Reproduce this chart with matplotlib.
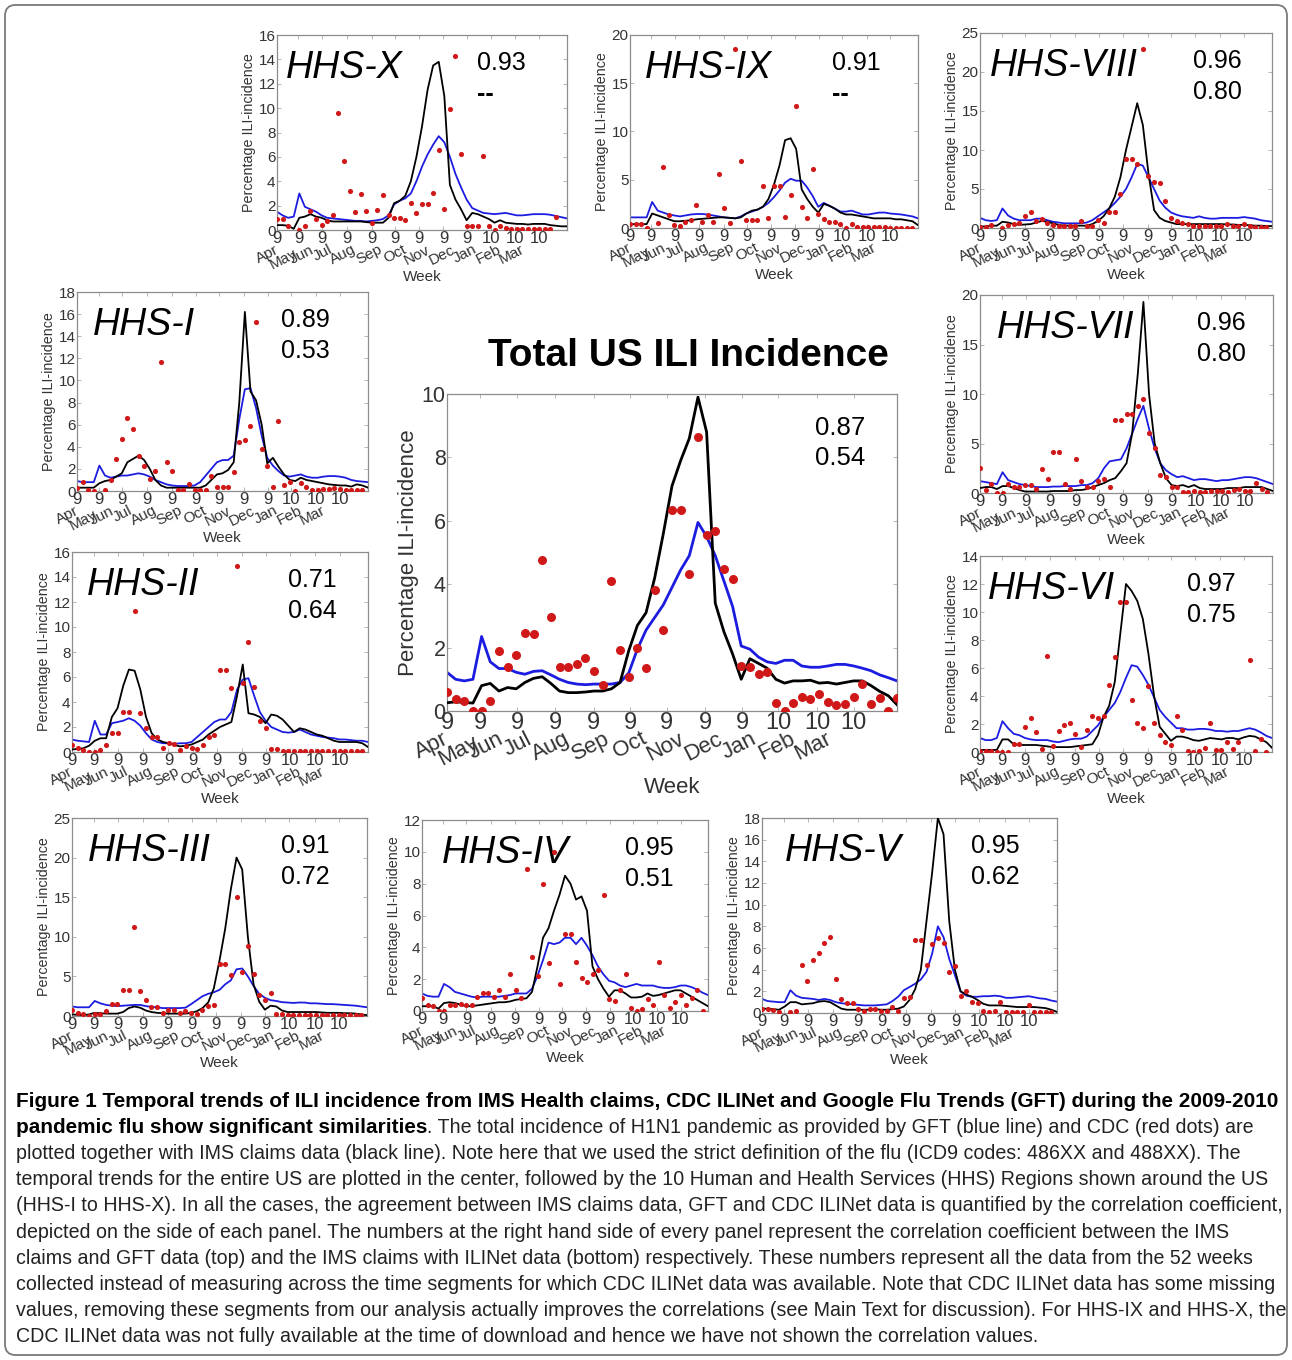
import numpy as np
import matplotlib
matplotlib.use('Agg')
import matplotlib.pyplot as plt
import matplotlib.transforms as mtransforms
from matplotlib.patches import FancyBboxPatch

nan = np.nan
plt.rcParams['font.family'] = ['Liberation Sans', 'DejaVu Sans']

# ---------------- data ----------------
weeks = np.arange(53)
tick_weeks = [0, 3.85, 8.09, 12.5, 16.95, 21.2, 25.4, 29.85, 34.1, 38.3, 42.75, 47.0]
tick_labels = ['9'] * 9 + ['10'] * 3
months = ['Apr', 'May', 'Jun', 'Jul', 'Aug', 'Sep', 'Oct', 'Nov', 'Dec', 'Jan', 'Feb', 'Mar']
month_pos = [-0.5, 2.9, 5.8, 9.1, 13.5, 18.1, 22.4, 26.7, 31.1, 35.1, 39.5, 43.7]

us_ims = [0.26,0.29,0.27,0.25,0.8,0.87,0.63,0.74,0.7,0.9,1.03,1.08,0.87,0.63,0.58,0.58,0.6,0.63,0.63,0.7,
          0.9,1.9,2.7,3.1,4.2,5.6,7.1,7.9,8.6,9.9,8.8,3.4,2.5,1.8,1.0,1.65,1.5,1.35,1.0,0.88,0.95,0.95,
          0.97,0.88,0.9,0.85,0.9,0.95,0.95,0.8,0.62,0.48,0.2]
us_gft = [1.22,1.0,0.95,1.0,2.35,1.55,1.34,1.34,1.22,1.16,1.25,1.27,1.14,1.0,0.9,0.85,0.83,0.85,0.85,0.85,
          0.9,1.2,1.95,2.55,2.95,3.35,3.9,4.45,4.9,5.95,5.5,4.9,4.1,3.3,2.05,1.95,1.7,1.55,1.5,1.6,1.6,
          1.42,1.38,1.38,1.42,1.47,1.47,1.42,1.35,1.27,1.14,1.05,0.95]
us_cdc = [0.61,0.39,0.32,0.0,0.0,0.32,1.88,1.4,1.77,2.46,2.43,4.76,2.96,1.38,1.38,1.48,1.67,1.25,0.83,4.1,
          1.93,1.08,1.98,1.35,3.83,2.56,6.33,6.33,4.32,8.65,5.54,5.69,4.49,4.17,1.42,1.4,1.16,1.22,0.24,
          0.0,0.24,0.44,0.37,0.53,0.29,0.19,0.21,0.44,0.85,0.23,0.42,0.0,0.42]

x_ims = [0.4,0.4,0.35,0.1, 1.0,1.1,1.3,1.1, 1.0,0.8,0.7,0.7, 0.7,0.7,0.7,0.7, 0.65,0.6,0.6,0.6,
         1.0,2.2,2.4,2.8, 4.0,6.0,8.5,11.5, 13.5,13.8,11.0,3.7, 2.5,1.7,0.8,1.4, 1.3,1.1,0.9,0.6,
         0.8,0.6,0.55,0.5, 0.5,0.45,0.5,0.5, 0.5,0.4,0.35,0.3, 0.3]
x_gft = [1.5,1.2,1.0,1.1, 3.0,1.9,1.7,1.5, 1.2,1.0,0.95,0.9, 0.85,0.8,0.75,0.75, 0.7,0.75,0.8,0.9,
         1.2,2.1,2.4,2.6, 3.0,4.0,5.2,6.2, 7.0,7.7,7.2,6.0, 4.6,3.5,2.5,1.8, 1.6,1.4,1.35,1.3,
         1.35,1.4,1.3,1.2, 1.2,1.25,1.3,1.3, 1.3,1.25,1.15,1.05, 0.95]
x_cdc = [0.9,0.9,0.35,nan, 0.0,0.35,1.6,0.9, 0.4,0.7,1.2,9.6, 5.7,3.2,1.5,2.95, 1.55,0.6,1.65,2.85,
         1.2,0.95,0.95,0.8, 2.2,1.4,2.1,2.1, 3.0,6.6,1.7,9.9, 14.3,6.2,0.3,0.3, 0.35,6.1,0.35,0.0,
         0.3,0.15,0.05,0.05, 0.05,0.05,0.05,0.05, 0.05,0.05,1.1,nan, nan]

ix_ims = [0.4,0.4,0.4,0.4, 1.5,1.3,1.1,0.9, 0.7,0.7,0.75,0.8, 0.9,0.95,1.0,1.05, 1.1,1.1,1.05,1.0,
          1.1,1.5,1.8,1.9, 2.2,3.0,4.5,6.5, 9.1,9.3,8.2,4.0, 3.0,2.2,1.6,2.5, 2.3,2.0,1.6,1.4,
          1.4,1.3,1.2,1.1, 1.0,1.0,1.0,1.0, 0.9,0.9,0.8,0.7, 0.3]
ix_gft = [1.1,1.1,1.1,1.1, 2.7,1.8,1.6,1.4, 1.3,1.2,1.3,1.4, 1.45,1.45,1.4,1.3, 1.2,1.1,1.05,1.0,
          1.2,1.5,1.7,1.9, 2.2,2.6,3.2,3.9, 4.7,5.1,4.9,4.9, 4.2,3.3,2.2,2.6, 2.3,2.0,1.7,1.7,
          1.8,1.6,1.4,1.4, 1.5,1.6,1.6,1.5, 1.45,1.4,1.3,1.2, 1.0]
ix_cdc = [0.45,0.45,0.4,0.0, nan,0.5,6.3,1.3, 0.3,0.2,0.6,0.8, 2.4,0.6,1.3,0.6, 5.6,2.1,0.5,18.5,
          6.9,0.8,0.8,0.8, 4.4,1.0,4.4,4.4, 1.1,3.4,12.6,2.2, 1.0,6.1,1.5,0.9, 0.65,0.65,0.4,0.0,
          0.4,0.1,0.1,0.1, 0.1,0.1,0.15,0.05, 0.05,0.05,0.05,0.05, nan]

viii_ims = [0.2,0.2,0.3,0.3, 0.8,0.7,0.5,0.4, 0.45,0.5,0.7,0.9, 0.8,0.6,0.4,0.3, 0.3,0.3,0.3,0.3,
            0.5,0.9,1.5,2.5, 4.0,6.5,10.0,13.0, 16.0,13.2,7.0,2.3, 1.3,0.9,0.7,0.5, 0.5,0.5,0.5,0.5,
            0.5,0.5,0.5,0.5, 0.45,0.45,0.4,0.4, 0.35,0.3,0.3,0.25, 0.25]
viii_gft = [1.3,1.0,0.9,1.0, 2.5,1.6,1.2,1.0, 1.0,1.0,1.2,1.2, 1.0,0.8,0.7,0.6, 0.6,0.6,0.6,0.7,
            1.0,1.5,2.0,2.5, 3.2,4.0,5.0,6.5, 8.2,8.0,6.5,5.0, 3.5,2.6,2.0,1.7, 1.5,1.4,1.3,1.5,
            1.3,1.2,1.2,1.3, 1.3,1.3,1.3,1.4, 1.3,1.2,1.0,0.9, 0.8]
viii_cdc = [0.1,0.1,0.35,nan, 0.0,0.4,0.5,0.6, 1.6,2.0,0.85,1.1, 0.6,0.4,0.3,0.2, 0.3,0.2,0.85,0.3,
            0.3,1.0,0.7,2.0, 2.0,4.3,8.9,8.9, 8.2,23.0,6.7,5.9, 5.8,3.4,1.3,0.85, 0.65,0.55,0.3,0.2,
            0.2,0.2,0.2,0.2, 0.55,0.2,0.2,0.55, 0.2,0.1,0.1,0.1, nan]

i_ims = [0.3,0.3,0.3,0.3, 0.7,0.9,1.0,1.3, 1.6,2.6,2.9,3.2, 2.8,2.0,1.0,0.5, 0.3,0.3,0.3,0.3,
         0.3,0.3,0.3,0.5, 1.0,1.5,1.6,1.9, 2.6,8.0,16.2,9.0, 8.2,6.0,2.5,3.0, 2.2,1.5,1.0,0.9,
         1.2,1.0,0.9,0.8, 0.7,0.6,0.55,0.5, 0.5,0.4,0.6,0.5, 0.3]
i_gft = [0.9,0.8,0.8,0.8, 2.3,1.4,1.2,1.3, 1.4,1.4,1.5,1.6, 1.5,1.3,1.0,0.8, 0.6,0.5,0.45,0.45,
         0.45,0.5,0.8,1.4, 2.0,2.6,2.8,2.8, 3.2,6.5,9.2,9.3, 7.5,5.0,3.0,2.3, 1.8,1.4,1.3,1.4,
         1.5,1.3,1.2,1.2, 1.3,1.35,1.35,1.3, 1.2,1.0,0.9,0.85, 0.8]
i_cdc = [0.3,0.8,0.1,0.0, nan,0.1,1.0,2.9, 4.7,6.6,5.6,3.2, 2.3,1.1,1.8,11.7, 2.6,1.8,0.1,0.1,
         0.6,0.1,0.1,0.1, 1.4,0.4,0.4,0.4, 1.7,4.4,4.6,5.9, 15.3,3.8,2.3,0.4, 6.3,0.5,0.8,0.0,
         0.75,0.35,0.1,0.1, 0.2,0.2,0.25,0.2, 0.1,0.1,0.1,0.05, nan]

vii_ims = [0.5,0.6,0.6,0.4, 0.7,0.7,0.5,0.3, 0.15,0.15,0.15,0.15, 0.15,0.2,0.2,0.2, 0.2,0.3,0.3,0.4,
           0.6,0.8,1.0,1.3, 1.5,2.2,3.0,6.0, 12.0,19.3,10.0,5.0, 3.0,1.5,0.8,0.7, 0.8,0.6,0.8,0.5,
           0.4,0.4,0.4,0.4, 0.5,0.5,0.5,0.6, 0.6,0.6,0.6,0.4, 0.2]
vii_gft = [1.2,1.1,1.0,0.9, 2.1,1.3,1.1,0.9, 0.8,0.7,0.6,0.6, 0.6,0.65,0.65,0.7, 0.7,0.7,0.8,0.8,
           1.0,1.5,2.5,3.2, 3.3,3.4,4.5,6.0, 7.5,8.8,6.5,4.5, 3.0,2.3,1.9,1.6, 1.7,1.5,1.3,1.4,
           1.4,1.3,1.2,1.3, 1.3,1.4,1.5,1.6, 1.6,1.5,1.3,1.1, 0.9]
vii_cdc = [2.5,0.3,0.9,0.0, 0.0,0.9,0.6,0.6, 0.8,0.8,0.4,2.4, 1.4,4.1,4.1,0.9, 0.4,3.4,1.2,0.6,
           0.6,1.2,1.4,0.6, 7.4,7.4,8.0,8.0, 8.8,9.5,6.1,4.5, 1.8,1.6,0.65,0.65, 0.15,0.15,0.2,0.1,
           0.15,0.2,0.2,0.2, 0.15,0.35,0.45,0.2, 0.2,1.0,0.4,0.1, nan]

ii_ims = [0.2,0.25,0.3,0.5, 0.9,1.1,1.1,2.8, 3.5,5.3,6.6,6.5, 5.0,2.8,1.5,1.0, 0.8,0.7,0.55,0.45,
          0.5,0.6,0.8,1.0, 1.4,1.7,2.0,2.2, 2.4,4.5,7.0,3.1, 3.0,2.8,2.3,3.0, 2.9,2.6,2.1,1.6,
          1.9,1.8,1.6,1.4, 1.3,1.1,0.9,0.8, 0.8,0.8,0.8,0.7, 0.4]
ii_gft = [1.0,0.9,0.85,0.8, 2.5,1.4,1.4,2.3, 2.4,2.5,2.7,2.5, 2.1,1.5,1.0,0.8, 0.7,0.7,0.65,0.7,
          0.7,0.8,1.2,1.6, 2.0,2.4,2.6,2.6, 3.2,5.0,5.8,5.9, 4.5,3.2,2.5,2.0, 1.8,1.6,1.55,1.6,
          1.8,1.6,1.4,1.3, 1.2,1.15,1.1,1.0, 1.0,0.95,0.9,0.9, 0.8]
ii_cdc = [0.6,0.3,0.2,0.0, 0.0,0.2,0.6,1.5, 1.5,3.2,3.2,11.3, 3.1,1.9,1.2,1.2, 0.3,0.7,0.65,0.2,
          0.5,0.3,0.25,0.6, 1.2,1.4,6.6,6.6, 5.1,14.9,5.5,8.8, 5.2,2.5,1.9,0.25, 0.25,0.12,0.1,0.1,
          0.12,0.12,0.05,0.05, 0.05,0.05,0.05,0.05, 0.05,0.05,0.05,0.05, nan]

vi_ims = [0.15,0.15,0.15,0.15, 0.9,0.9,0.55,0.5, 0.5,0.5,0.5,0.45, 0.4,0.35,0.35,0.35, 0.35,0.4,0.45,0.5,
          0.55,1.2,2.5,3.3, 5.0,8.5,12.0,11.5, 10.8,9.5,7.0,4.0, 1.8,1.3,0.8,1.1, 1.1,1.0,0.85,0.8,
          0.9,1.0,0.95,0.9, 1.0,1.0,0.9,1.05, 1.15,1.1,0.9,0.7, 0.3]
vi_gft = [1.0,0.85,0.85,1.0, 2.2,1.7,1.3,1.2, 1.0,0.9,0.85,0.85, 0.85,0.75,0.7,0.8, 0.9,0.95,0.95,1.1,
          1.5,1.9,2.5,3.0, 3.5,4.3,5.3,6.2, 6.1,5.5,4.8,3.9, 3.0,2.5,2.1,1.7, 1.7,1.6,1.6,1.65,
          1.65,1.6,1.5,1.5, 1.45,1.5,1.5,1.6, 1.7,1.6,1.4,1.15, 1.0]
vi_cdc = [0.1,0.1,0.1,0.0, 0.0,0.0,0.6,0.6, 1.8,2.4,1.4,0.25, 6.85,0.4,1.5,1.9, 2.1,1.3,0.35,1.6,
          2.55,2.45,2.6,4.8, 6.8,10.7,10.7,3.75, 2.1,1.7,4.7,2.1, 1.25,0.7,0.5,2.6, 1.6,0.05,0.0,0.05,
          0.3,2.1,0.15,0.15, 0.75,0.2,0.75,nan, 6.6,0.1,0.95,0.0, nan]

iii_ims = [0.2,0.15,0.1,0.2, 0.4,0.35,0.3,0.3, 0.3,0.5,1.0,1.2, 1.05,0.7,0.5,0.4, 0.35,0.3,0.3,0.3,
           0.3,0.4,0.6,1.0, 1.7,3.5,7.0,11.0, 16.0,20.0,18.5,10.0, 4.0,1.8,0.8,1.3, 1.2,0.7,0.5,0.5,
           0.5,0.5,0.5,0.5, 0.45,0.4,0.4,0.4, 0.35,0.35,0.3,0.2, 0.1]
iii_gft = [1.2,1.1,1.1,1.1, 1.9,1.6,1.4,1.3, 1.25,1.3,1.35,1.4, 1.4,1.25,1.15,1.1, 1.0,1.0,1.0,1.0,
           1.05,1.5,2.0,2.5, 2.8,3.0,3.3,4.0, 4.5,5.9,6.0,5.0, 3.8,2.8,2.3,2.0, 1.9,1.75,1.7,1.65,
           1.7,1.7,1.6,1.6, 1.55,1.5,1.5,1.45, 1.4,1.35,1.3,1.2, 1.1]
iii_cdc = [0.7,0.4,0.2,0.0, 0.2,0.2,0.6,1.55, 1.5,3.25,3.25,11.3, 3.2,2.0,1.15,1.15, 0.4,0.7,0.7,0.4,
           0.6,0.4,0.3,0.7, 1.25,1.45,6.6,6.6, 5.15,15.0,5.5,8.8, 5.3,2.6,2.0,2.9, 0.2,0.2,0.1,0.1,
           0.1,0.1,0.1,0.1, 0.1,0.1,0.1,0.1, 0.1,0.1,0.1,0.1, nan]

iv_ims = [0.3,0.3,0.3,0.15, 0.5,0.55,0.5,0.4, 0.3,0.3,0.35,0.4, 0.45,0.5,0.55,0.55, 0.6,0.7,0.75,0.8,
          1.2,2.8,4.6,5.2, 6.3,7.3,8.5,8.0, 7.0,7.2,6.3,2.8, 2.0,1.4,0.9,1.3, 1.3,1.1,0.85,0.85,
          0.9,1.1,0.95,1.0, 1.1,1.2,1.3,1.3, 1.1,0.9,0.7,0.5, 0.3]
iv_gft = [1.1,0.95,0.9,0.9, 1.7,1.5,1.2,1.1, 1.0,0.9,0.85,0.9, 0.9,0.9,0.9,0.95, 1.0,1.1,1.1,1.1,
          1.4,2.2,3.2,4.3, 4.2,4.3,4.6,4.6, 4.2,4.6,4.1,3.5, 2.8,2.3,1.9,1.8, 1.6,1.5,1.6,1.7,
          1.6,1.6,1.6,1.5, 1.45,1.45,1.5,1.6, 1.6,1.5,1.35,1.15, 1.0]
iv_cdc = [0.8,0.4,0.3,0.0, 0.0,0.35,0.4,0.45, 0.4,0.4,0.85,1.15, 1.1,0.85,1.3,0.85, 2.3,1.3,0.8,8.9,
          3.4,2.2,8.0,3.0, 10.0,1.7,4.85,4.85, 3.05,2.05,1.85,2.3, 2.6,7.3,0.75,0.6, 1.35,2.3,0.2,0.0,
          0.15,0.75,0.35,3.05, 1.0,0.2,0.55,1.0, 0.35,0.8,1.3,0.0, nan]

v_ims = [0.4,0.4,0.35,0.3, 0.6,1.0,1.0,0.8, 0.85,0.9,1.05,1.1, 1.0,0.7,0.4,0.3, 0.3,0.3,0.3,0.3,
         0.35,0.3,0.3,0.35, 0.4,0.6,1.2,2.2, 4.0,8.5,13.0,18.0, 16.5,8.5,4.0,2.0, 1.7,1.5,1.2,0.85,
         0.7,0.7,0.7,0.65, 0.6,0.55,0.55,0.55, 0.55,0.5,0.45,0.3, 0.1]
v_gft = [1.3,1.1,1.05,1.0, 1.0,2.1,1.6,1.4, 1.35,1.3,1.2,1.3, 1.2,1.0,0.9,0.85, 0.8,0.75,0.7,0.7,
         0.7,0.75,0.8,1.1, 1.5,2.1,2.4,2.7, 3.1,3.8,5.5,8.0, 7.0,5.0,3.5,2.0, 1.6,1.5,1.5,1.55,
         1.55,1.6,1.55,1.4, 1.4,1.45,1.5,1.55, 1.45,1.35,1.3,1.15, 1.05]
v_cdc = [0.35,0.35,0.25,0.05, nan,0.05,0.15,4.45, 3.0,4.9,5.5,6.5, 7.0,3.1,1.3,0.9, 0.9,0.35,0.2,0.35,
         0.35,0.2,0.2,0.6, 0.15,1.4,1.45,6.75, 6.75,4.45,6.4,6.9, 6.5,3.75,4.3,1.55, 2.0,1.0,0.9,0.15,
         0.05,0.2,1.0,0.05, 0.05,0.05,0.05,0.7, 0.05,0.05,0.05,0.05, nan]

# ---------------- layout ----------------
W, H = 1292, 1360
fig = plt.figure(figsize=(W / 100, H / 100), dpi=100)
fig.patch.set_facecolor('white')

BLACK = '#000000'
BLUE = '#1c1ce0'
RED = '#d01818'
TXT = '#333333'


def rect_px(l, t, r, b):
    return [l / W, 1 - b / H, (r - l) / W, (b - t) / H]


def draw_panel(box, ims, gft, cdc, ymax, ystep, big=False):
    ax = fig.add_axes(rect_px(*box))
    if big:
        lw, ms, tfs, xfs, mfs, wfs, yfs = 2.0, 6.5, 15.5, 17, 16, 16, 16
        wk_off, m_off = 55, 12.5
    else:
        lw, ms, tfs, xfs, mfs, wfs, yfs = 1.3, 3.7, 11, 12, 11, 11, 10.3
        wk_off, m_off = 34, 9.0
    ax.plot(weeks, gft, color=BLUE, lw=lw, zorder=2)
    ax.plot(weeks, ims, color=BLACK, lw=lw, zorder=3)
    ax.plot(weeks, cdc, 'o', color=RED, ms=ms, mec='none', zorder=4)
    ax.set_xlim(0, 52)
    ax.set_ylim(0, ymax)
    yt = np.arange(0, ymax + 0.01, ystep)
    ax.set_yticks(yt)
    ax.set_yticklabels([f'{int(v)}' for v in yt], fontsize=tfs, color=TXT)
    ax.set_xticks(tick_weeks)
    ax.set_xticklabels(tick_labels, fontsize=xfs, color=TXT)
    ax.tick_params(direction='in', top=True, right=True, length=3, width=0.6,
                   color='#aaaaaa', pad=1)
    for s in ax.spines.values():
        s.set_color('#8c8c8c')
        s.set_linewidth(0.9)
    ax.set_ylabel('Percentage ILI-incidence', fontsize=yfs, color=TXT, labelpad=2)
    trans = mtransforms.blended_transform_factory(ax.transData, ax.transAxes)
    for m, p in zip(months, month_pos):
        extra = 3.0 if m == 'May' else 0.0
        ax.annotate(m, xy=(p, 0), xycoords=trans, xytext=(0, -m_off - extra), textcoords='offset points',
                    rotation=27, rotation_mode='anchor', ha='right', va='top',
                    fontsize=mfs, color=TXT, annotation_clip=False)
    ax.annotate('Week', xy=(0.5, 0), xycoords='axes fraction', xytext=(0, -wk_off),
                textcoords='offset points', ha='center', va='center', fontsize=wfs, color=TXT,
                annotation_clip=False)
    return ax


def label_panel(ax, name, corr, nx, cx):
    ax.annotate(name, xy=(nx, 1), xycoords='axes fraction', xytext=(0, -43 * 0.72),
                textcoords='offset points', ha='left', va='baseline', fontsize=27,
                style='italic', color='black')
    ax.annotate(corr[0], xy=(cx, 1), xycoords='axes fraction', xytext=(0, -35 * 0.72),
                textcoords='offset points', ha='left', va='baseline', fontsize=18, color='black')
    ax.annotate(corr[1], xy=(cx, 1), xycoords='axes fraction', xytext=(0, -66 * 0.72),
                textcoords='offset points', ha='left', va='baseline', fontsize=18, color='black',
                fontweight='bold' if corr[1] == '--' else 'normal')


panels = [
    ('HHS-X', (277, 35, 567, 230), x_ims, x_gft, x_cdc, 16, 2, ('0.93', '--'), 0.03, 0.69),
    ('HHS-IX', (630, 35, 918, 228), ix_ims, ix_gft, ix_cdc, 20, 5, ('0.91', '--'), 0.052, 0.70),
    ('HHS-VIII', (980, 33, 1272, 228), viii_ims, viii_gft, viii_cdc, 25, 5, ('0.96', '0.80'), 0.034, 0.73),
    ('HHS-I', (77, 292, 368, 491), i_ims, i_gft, i_cdc, 18, 2, ('0.89', '0.53'), 0.055, 0.70),
    ('HHS-VII', (980, 295, 1273, 493), vii_ims, vii_gft, vii_cdc, 20, 5, ('0.96', '0.80'), 0.058, 0.74),
    ('HHS-II', (72, 552, 368, 752), ii_ims, ii_gft, ii_cdc, 16, 2, ('0.71', '0.64'), 0.05, 0.73),
    ('HHS-VI', (980, 556, 1272, 752), vi_ims, vi_gft, vi_cdc, 14, 2, ('0.97', '0.75'), 0.027, 0.71),
    ('HHS-III', (72, 818, 367, 1016), iii_ims, iii_gft, iii_cdc, 25, 5, ('0.91', '0.72'), 0.054, 0.71),
    ('HHS-IV', (422, 820, 708, 1011), iv_ims, iv_gft, iv_cdc, 12, 2, ('0.95', '0.51'), 0.07, 0.71),
    ('HHS-V', (762, 818, 1057, 1013), v_ims, v_gft, v_cdc, 18, 2, ('0.95', '0.62'), 0.078, 0.71),
]

for name, box, ims, gft, cdc, ymax, ystep, corr, nx, cx in panels:
    a = draw_panel(box, ims, gft, cdc, ymax, ystep)
    label_panel(a, name, corr, nx, cx)

# center panel
axc = draw_panel((447, 394, 897, 711), us_ims, us_gft, us_cdc, 10, 2, big=True)
axc.annotate('0.87', xy=(0.818, 1), xycoords='axes fraction', xytext=(0, -41 * 0.72),
             textcoords='offset points', ha='left', va='baseline', fontsize=18.5)
axc.annotate('0.54', xy=(0.818, 1), xycoords='axes fraction', xytext=(0, -71 * 0.72),
             textcoords='offset points', ha='left', va='baseline', fontsize=18.5)
fig.text(688 / W, 1 - 366 / H, 'Total US ILI Incidence', ha='center', va='baseline',
         fontsize=28, fontweight='bold')

# outer frame
frame = FancyBboxPatch((5 / W, 5 / H), 1282 / W, 1350 / H,
                       boxstyle='round,pad=0,rounding_size=0.008', transform=fig.transFigure,
                       fill=False, ec='#7a7a7a', lw=1.3)
fig.add_artist(frame)

# ---------------- caption ----------------
cap_bold1 = ('Figure 1 Temporal trends of ILI incidence from IMS Health claims, CDC ILINet and '
             'Google Flu Trends (GFT) during the 2009-2010')
cap_bold2 = 'pandemic flu show significant similarities'
cap_lines = [
    '. The total incidence of H1N1 pandemic as provided by GFT (blue line) and CDC (red dots) are',
    'plotted together with IMS claims data (black line). Note here that we used the strict definition of the flu (ICD9 codes: 486XX and 488XX). The',
    'temporal trends for the entire US are plotted in the center, followed by the 10 Human and Health Services (HHS) Regions shown around the US',
    '(HHS-I to HHS-X). In all the cases, the agreement between IMS claims data, GFT and CDC ILINet data is quantified by the correlation coefficient,',
    'depicted on the side of each panel. The numbers at the right hand side of every panel represent the correlation coefficient between the IMS',
    'claims and GFT data (top) and the IMS claims with ILINet data (bottom) respectively. These numbers represent all the data from the 52 weeks',
    'collected instead of measuring across the time segments for which CDC ILINet data was available. Note that CDC ILINet data has some missing',
    'values, removing these segments from our analysis actually improves the correlations (see Main Text for discussion). For HHS-IX and HHS-X, the',
    'CDC ILINet data was not fully available at the time of download and hence we have not shown the correlation values.',
]

renderer = fig.canvas.get_renderer()
x0 = 16
y0 = 1107
dy = 26.1

tb = fig.text(x0 / W, 1 - y0 / H, cap_bold1, fontsize=13, fontweight='bold', va='baseline',
              color='black')
wb = tb.get_window_extent(renderer).width
fs_b = 13 * 1262 / wb
tb.set_fontsize(fs_b)

wmax = 0
for line in cap_lines[1:]:
    probe = fig.text(0, 0, line, fontsize=13)
    wmax = max(wmax, probe.get_window_extent(renderer).width)
    probe.remove()
fs_r = 13 * 1262 / wmax

tb2 = fig.text(x0 / W, 1 - (y0 + dy) / H, cap_bold2, fontsize=fs_b, fontweight='bold',
               va='baseline', color='black')
bb = tb2.get_window_extent(renderer)
fig.text(bb.x1 / W, 1 - (y0 + dy) / H, cap_lines[0], fontsize=fs_r, va='baseline', color='#222222')
for i, line in enumerate(cap_lines[1:]):
    fig.text(x0 / W, 1 - (y0 + dy * (i + 2)) / H, line, fontsize=fs_r, va='baseline',
             color='#222222')

fig.savefig('out.png', dpi=100)
